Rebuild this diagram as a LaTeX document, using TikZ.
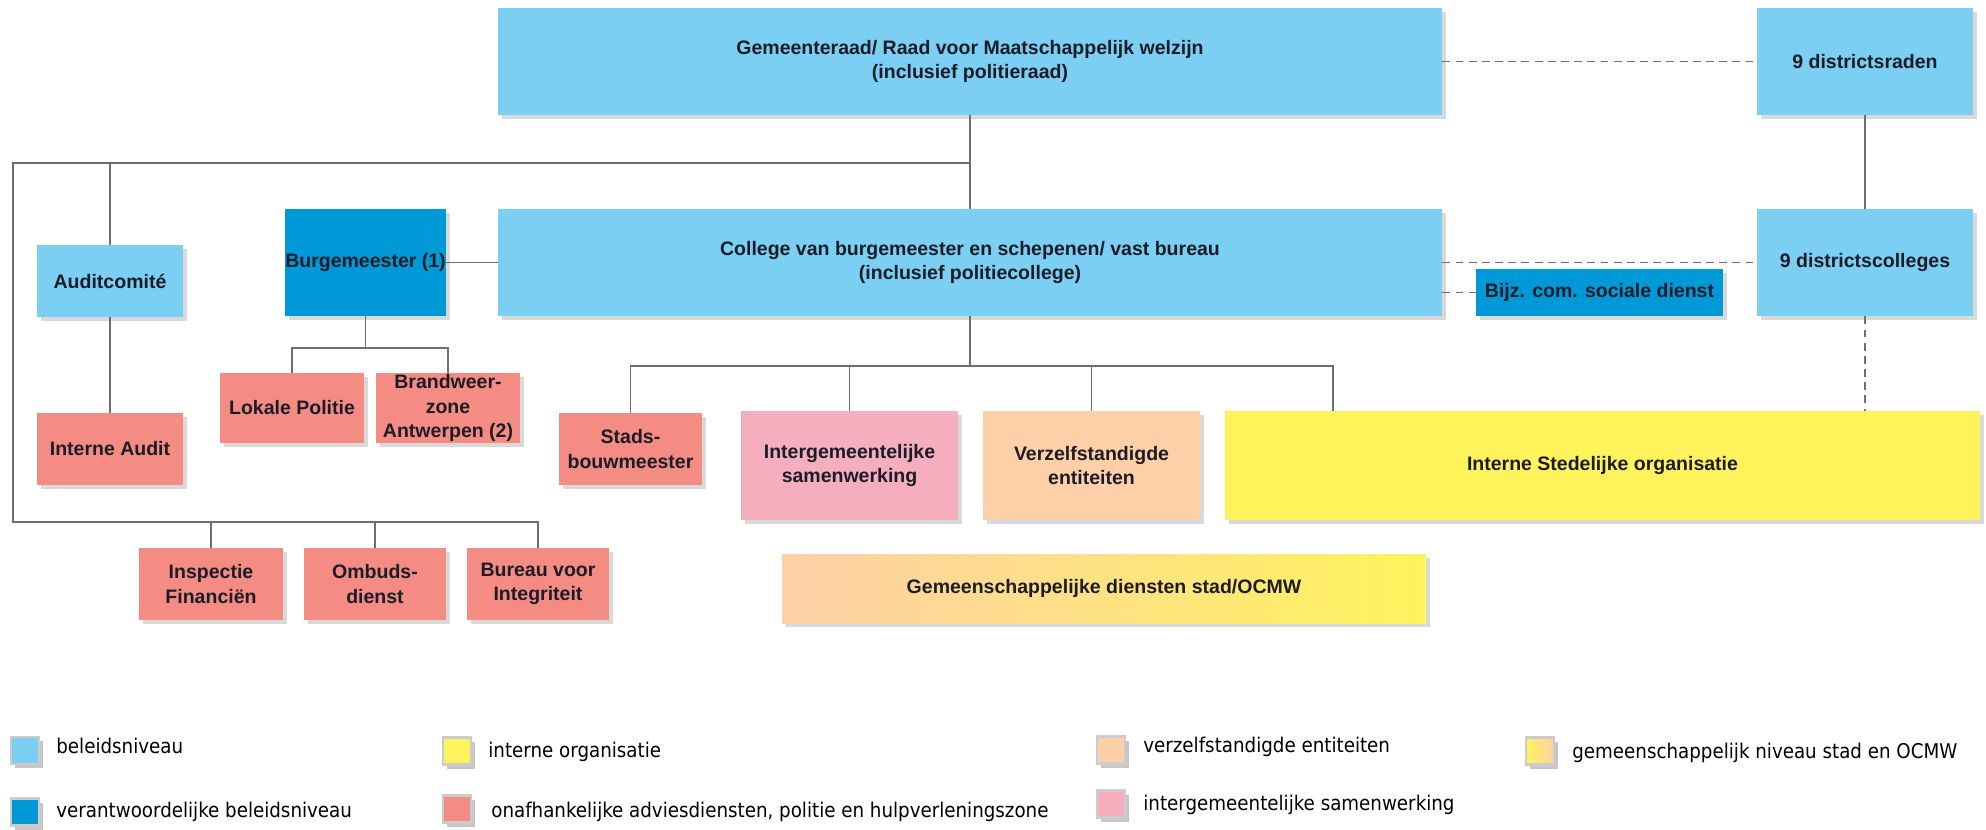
\documentclass[tikz,border=0pt]{standalone}
\usepackage{fontspec}
\usetikzlibrary{shadows}
\newfontfamily\boxfont{Liberation Sans}
\newfontfamily\legendfont{DejaVu Sans Condensed}
\definecolor{lightblue}{HTML}{7ACFF2}
\definecolor{darkblue}{HTML}{0099D8}
\definecolor{salmon}{HTML}{F48C84}
\definecolor{pink}{HTML}{F5AEBE}
\definecolor{peach}{HTML}{FDD0A8}
\definecolor{yellow}{HTML}{FFF35C}
\definecolor{ink}{HTML}{1C1C28}
\definecolor{wire}{HTML}{6E6E6E}

\begin{document}
\begin{tikzpicture}
\tikzstyle{unit} = [rectangle, inner sep=0pt, text centered, align=center, text=ink, font=\boxfont\bfseries\fontsize{11.1}{13.7}\selectfont, drop shadow={shadow xshift=2pt, shadow yshift=-2pt, opacity=0.3}]
\tikzstyle{policy} = [unit, fill=lightblue]
\tikzstyle{mayor} = [unit, fill=darkblue]
\tikzstyle{advice} = [unit, fill=salmon]
\tikzstyle{joint} = [unit, fill=pink]
\tikzstyle{autonomous} = [unit, fill=peach]
\tikzstyle{internal} = [unit, fill=yellow]
\tikzstyle{shared} = [unit, left color=peach, right color=yellow]
\tikzstyle{link} = [draw=wire, line width=0.85pt]
\tikzstyle{dashlink} = [link, dash pattern=on 4.5pt off 3pt]
\tikzstyle{swatch} = [rectangle, minimum width=0.56cm, minimum height=0.54cm, inner sep=0pt, draw=black!20, line width=1.5pt, drop shadow={shadow xshift=2.3pt, shadow yshift=-2.3pt, fill=black!22, opacity=1}]
\tikzstyle{legend} = [anchor=base west, inner sep=0pt, text=black, font=\legendfont\fontsize{11.55}{13}\selectfont]

\useasboundingbox (0,0) rectangle (39.72,-16.6);

\node [policy, minimum width=18.88cm, minimum height=2.14cm] (v1) at (19.40,-1.23) {Gemeenteraad/ Raad voor Maatschappelijk welzijn\\(inclusief politieraad)};
\node [policy, minimum width=18.88cm, minimum height=2.14cm] (v2) at (19.40,-5.25) {College van burgemeester en schepenen/ vast bureau\\(inclusief politiecollege)};
\node [mayor, minimum width=3.22cm, minimum height=2.14cm] (v3) at (7.31,-5.25) {Burgemeester (1)};
\node [policy, minimum width=4.32cm, minimum height=2.14cm] (v4) at (37.30,-1.23) {9 districtsraden};
\node [policy, minimum width=4.32cm, minimum height=2.14cm] (v5) at (37.30,-5.25) {9 districtscolleges};
\node [mayor, minimum width=4.94cm, minimum height=0.94cm] (v6) at (31.99,-5.85) {Bijz. com. sociale dienst};

\node [policy, minimum width=2.92cm, minimum height=1.44cm] (v7) at (2.20,-5.62) {Auditcomité};
\node [advice, minimum width=2.92cm, minimum height=1.44cm] (v8) at (2.20,-8.98) {Interne Audit};
\node [advice, minimum width=2.88cm, minimum height=1.40cm] (v9) at (5.84,-8.16) {Lokale Politie};
\node [advice, minimum width=2.88cm, minimum height=1.40cm] (v10) at (8.96,-8.16) {Brandweer-\\zone\\Antwerpen (2)};
\node [advice, minimum width=2.86cm, minimum height=1.44cm] (v11) at (12.61,-8.98) {Stads-\\bouwmeester};
\node [joint, minimum width=4.34cm, minimum height=2.18cm] (v12) at (16.99,-9.31) {Intergemeentelijke\\samenwerking};
\node [autonomous, minimum width=4.34cm, minimum height=2.18cm] (v13) at (21.83,-9.31) {Verzelfstandigde\\entiteiten};
\node [internal, minimum width=15.10cm, minimum height=2.18cm] (v14) at (32.05,-9.31) {Interne Stedelijke organisatie};
\node [shared, minimum width=12.88cm, minimum height=1.38cm] (v15) at (22.08,-11.77) {Gemeenschappelijke diensten stad/OCMW};
\node [advice, minimum width=2.88cm, minimum height=1.44cm] (v16) at (4.22,-11.68) {Inspectie\\Financiën};
\node [advice, minimum width=2.84cm, minimum height=1.44cm] (v17) at (7.50,-11.68) {Ombuds-\\dienst};
\node [advice, minimum width=2.84cm, minimum height=1.44cm] (v18) at (10.76,-11.68) {Bureau voor\\Integriteit};

\coordinate (h1) at (0.26,-3.26);
\coordinate (h2) at (0.26,-10.44);
\coordinate (h3) at (7.31,-6.96);
\coordinate (h4) at (19.40,-7.32);
\coordinate (h5) at (26.66,-7.32);

% council and college
\draw [link] (v1) -- (v2);
\draw [link] (v1.south |- h1) -- (h1) -- (h2) -| (v18);
\draw [link] (v7) -- (v7 |- h1);
\draw [link] (v7) -- (v8);
\draw [link] (v16) -- (v16 |- h2);
\draw [link] (v17) -- (v17 |- h2);
% mayor
\draw [link] (v3) -- (v2);
\draw [link] (v3) -- (h3);
\draw [link] (v9) |- (h3) -| (v10);
% college branches
\draw [link] (v2) -- (h4);
\draw [link] (v11) |- (h5) -- (h5 |- v14.north);
\draw [link] (v12) -- (v12 |- h4);
\draw [link] (v13) -- (v13 |- h4);
% districts
\draw [dashlink] (v1) -- (v4);
\draw [dashlink] (v2) -- (v5);
\draw [dashlink] (v2.east |- v6) -- (v6);
\draw [link] (v4) -- (v5);
\draw [dashlink] (v5) -- (v5 |- v14.north);

% legend
\node [swatch, fill=lightblue] (v19) at (0.50,-15.01) {};
\node [swatch, fill=darkblue] (v20) at (0.50,-16.24) {};
\node [swatch, fill=yellow] (v21) at (9.14,-15.02) {};
\node [swatch, fill=salmon] (v22) at (9.14,-16.18) {};
\node [swatch, fill=peach] (v23) at (22.22,-15.00) {};
\node [swatch, fill=pink] (v24) at (22.22,-16.08) {};
\node [swatch, left color=yellow, right color=peach] (v25) at (30.80,-15.02) {};
\node [legend] (v26) at (1.12,-15.06) {beleidsniveau};
\node [legend] (v27) at (1.12,-16.34) {verantwoordelijke beleidsniveau};
\node [legend] (v28) at (9.76,-15.14) {interne organisatie};
\node [legend] (v29) at (9.82,-16.34) {onafhankelijke adviesdiensten, politie en hulpverleningszone};
\node [legend] (v30) at (22.86,-15.04) {verzelfstandigde entiteiten};
\node [legend] (v31) at (22.86,-16.20) {intergemeentelijke samenwerking};
\node [legend] (v32) at (31.44,-15.16) {gemeenschappelijk niveau stad en OCMW};
\end{tikzpicture}
\end{document}
